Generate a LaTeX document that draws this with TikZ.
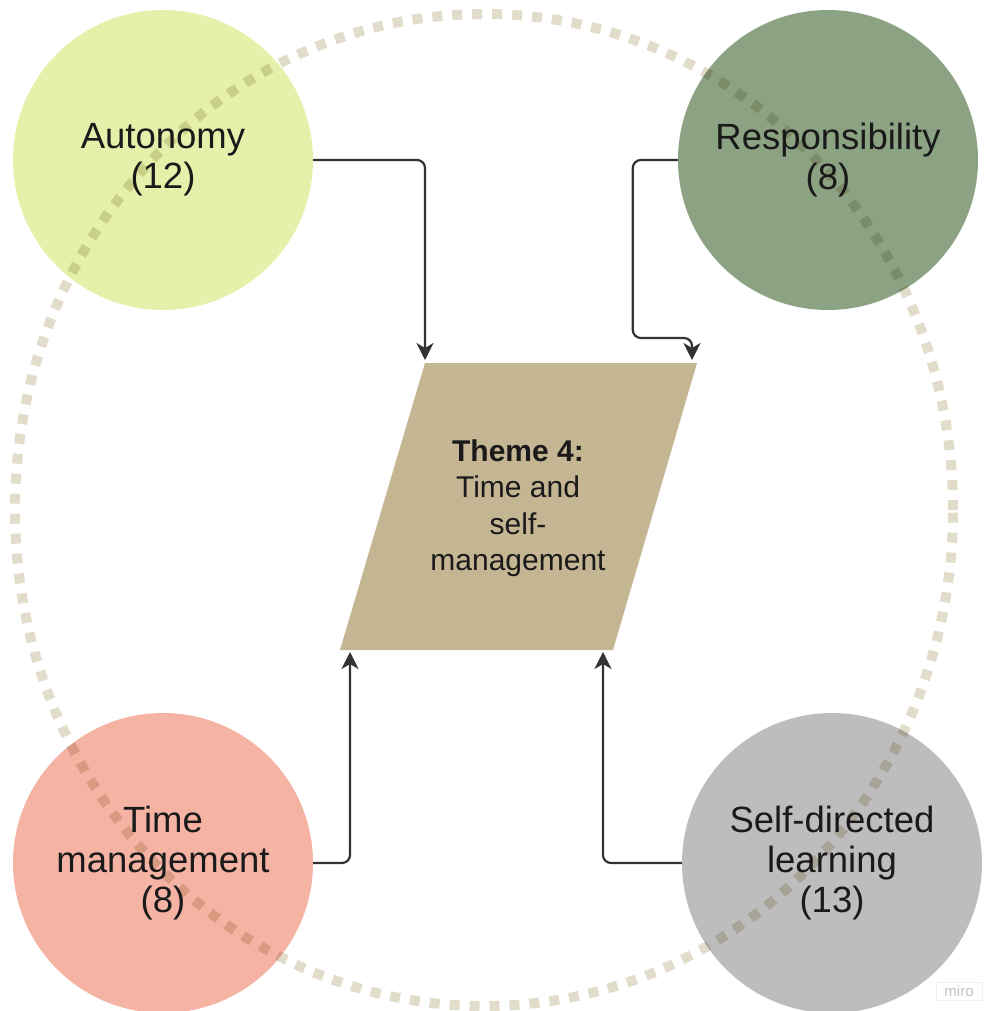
\documentclass[tikz,border=0pt]{standalone}
\usepackage{fontspec}
\setmainfont{Liberation Sans}
\usetikzlibrary{arrows.meta}

\definecolor{autoc}{HTML}{E5F0AA}
\definecolor{respc}{HTML}{8BA383}
\definecolor{timec}{HTML}{F5B3A4}
\definecolor{selfc}{HTML}{BDBDBD}
\definecolor{themec}{HTML}{C4B593}
\definecolor{ringc}{HTML}{E2DCCB}
\definecolor{linkc}{HTML}{333333}
\definecolor{txt}{HTML}{1A1A1A}

\begin{document}
\begin{tikzpicture}[x=1pt,y=-1pt,
  bubble/.style={circle, minimum size=300pt, inner sep=0pt, align=center,
    font=\fontsize{36.5}{40}\selectfont, text=txt},
  link/.style={draw=linkc, line width=2.2pt, rounded corners=8pt,
    -{Stealth[length=17pt,width=17pt,inset=5pt]}},
]
\useasboundingbox (0,0) rectangle (983,1011);

% sub-theme circles
\node[bubble, fill=autoc]  (auto)  at (163,160) {Autonomy\\(12)};
\node[bubble, fill=respc]  (resp)  at (828,160) {Responsibility\\(8)};
\node[bubble, fill=timec]  (timem) at (163,863) {Time\\management\\(8)};
\node[bubble, fill=selfc]  (selfd) at (832,863) {Self-directed\\learning\\(13)};

% central theme parallelogram
\coordinate (tl) at (425,363);
\coordinate (tr) at (697,363);
\coordinate (br) at (613,650);
\coordinate (bl) at (340,650);
\fill[themec] (tl) -- (tr) -- (br) -- (bl) -- cycle;
\node[align=center, font=\fontsize{30}{36.5}\selectfont, text=txt] (theme) at (518,508)
  {\textbf{Theme 4:}\\Time and\\self-\\management};

% connectors
\draw[link] (auto.east) -| ([yshift=3pt]tl);
\draw[link] (resp.west) -- ++(-45,0) |- ([xshift=-5pt,yshift=25pt]tr) -- ([xshift=-5pt,yshift=3pt]tr);
\draw[link] (timem.east) -| ([xshift=10pt,yshift=-2pt]bl);
\draw[link] (selfd.west) -| ([xshift=-10pt,yshift=-2pt]br);

% dotted enclosing ring
\begin{scope}[blend mode=multiply]
\draw[ringc, line width=10pt, dash pattern=on 10pt off 10pt]
  (484,510) ellipse [x radius=469pt, y radius=496pt];
\end{scope}

% watermark
\node[draw=gray!12, line width=0.6pt, text=gray!50, font=\fontsize{15}{15}\selectfont,
  inner sep=3pt, minimum width=46pt, minimum height=18pt] (wm) at (959,991) {miro};
\end{tikzpicture}
\end{document}
